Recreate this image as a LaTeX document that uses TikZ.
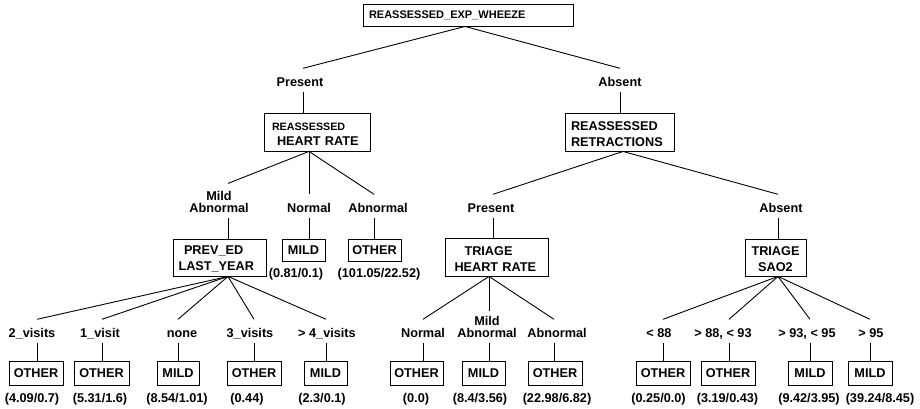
\documentclass[tikz,border=0pt]{standalone}
\usepackage{fontspec}
\setmainfont{Liberation Sans}
\begin{document}
\begin{tikzpicture}[x=1pt,y=-1pt,
  every node/.style={font=\bfseries},
  ln/.style={line width=0.9pt},
  box/.style={draw, line width=0.9pt, inner ysep=0pt, font=\fontsize{12.7}{16}\selectfont\bfseries},
  leaf/.style={box, minimum height=24pt, text height=9.1pt, text depth=0pt, inner xsep=0pt},
  lab/.style={inner xsep=0pt, inner ysep=5pt, text height=13pt, text depth=0pt, anchor=base, font=\fontsize{12.7}{11.5}\selectfont\bfseries},
  labtwo/.style={inner xsep=0pt, inner ysep=5pt, text depth=0pt, anchor=south, align=center, font=\fontsize{12.7}{11.5}\selectfont\bfseries},
  val/.style={inner sep=0pt, anchor=base, font=\fontsize{12.7}{15}\selectfont\bfseries}]
\useasboundingbox (0,0) rectangle (920,409);

% ---- decision boxes
\node[box, font=\fontsize{11}{13}\selectfont\bfseries, minimum width=210pt, minimum height=22pt, inner xsep=6pt, text width=198pt, align=left, text height=8pt, text depth=0pt] (root) at (468,15) {REASSESSED\_EXP\_WHEEZE};
\node[box, minimum width=106pt, minimum height=38pt, inner xsep=8pt, text width=90pt, align=left] (hr) at (317,132) {\rule{0pt}{12pt}{\fontsize{10.7}{16}\selectfont REASSESSED}\\\hspace*{5pt}HEART RATE};
\node[box, minimum width=109pt, minimum height=38pt, inner xsep=6pt, text width=97pt, align=left] (ret) at (619.5,132) {\rule{0pt}{12.5pt}REASSESSED\\RETRACTIONS};
\node[box, minimum width=93pt, minimum height=37pt, inner xsep=5.5pt, text width=82pt, align=left] (prev) at (219.5,257.5) {\rule{0pt}{12.5pt}\hspace*{5.5pt}PREV\_ED\\LAST\_YEAR};
\node[box, minimum width=103pt, minimum height=38pt, inner xsep=9.5pt, text width=84pt, align=left] (thr) at (496.5,257) {\rule{0pt}{12.5pt}\hspace*{10pt}TRIAGE\\HEART RATE};
\node[box, minimum width=61pt, minimum height=37pt, inner xsep=0pt, align=center] (sao) at (775.5,257.5) {\rule{0pt}{12.5pt}TRIAGE\\SAO2};

% ---- branch labels
\node[lab] (pres) at (300,86.5) {Present};
\node[lab] (abs) at (620,86.5) {Absent};
\node[labtwo] (ma1) at (219,217.5) {Mild\\Abnormal};
\node[lab] (n1) at (309,212.5) {Normal};
\node[lab] (ab1) at (378,212.5) {Abnormal};
\node[lab] (pr2) at (491,212.5) {Present};
\node[lab] (ab2) at (781,212.5) {Absent};
\node[lab] (l1) at (32,337.5) {2\_visits};
\node[lab] (l2) at (100,337.5) {1\_visit};
\node[lab] (l3) at (182,337.5) {none};
\node[lab] (l4) at (250,337.5) {3\_visits};
\node[lab] (l5) at (327,337.5) {> 4\_visits};
\node[lab] (n3) at (423,337.5) {Normal};
\node[labtwo] (ma3) at (487,342.5) {Mild\\Abnormal};
\node[lab] (ab3) at (557,337.5) {Abnormal};
\node[lab] (s1) at (659,337.5) {< 88};
\node[lab] (s2) at (723,337.5) {> 88, < 93};
\node[lab] (s3) at (807,337.5) {> 93, < 95};
\node[lab] (s4) at (871,337.5) {> 95};

% ---- leaves
\node[leaf, minimum height=22pt, minimum width=43pt] (mild1) at (303.5,250) {MILD};
\node[leaf, minimum height=22pt, minimum width=53pt] (oth1) at (374.5,250) {OTHER};
\node[leaf, minimum width=54pt] (o9) at (36,373) {OTHER};
\node[leaf, minimum width=55pt] (o10) at (101.5,373) {OTHER};
\node[leaf, minimum width=42pt] (m11) at (178,373) {MILD};
\node[leaf, minimum width=54pt] (o12) at (254,373) {OTHER};
\node[leaf, minimum width=43pt] (m13) at (325.5,373) {MILD};
\node[leaf, minimum width=53pt] (o14) at (416.5,373) {OTHER};
\node[leaf, minimum width=43pt] (m15) at (483.5,373) {MILD};
\node[leaf, minimum width=54pt] (o16) at (555,373) {OTHER};
\node[leaf, minimum width=54pt] (o17) at (663,373) {OTHER};
\node[leaf, minimum width=54pt] (o18) at (728,373) {OTHER};
\node[leaf, minimum width=44pt] (m19) at (810,373) {MILD};
\node[leaf, minimum width=44pt] (m20) at (870,373) {MILD};

% ---- values
\node[val] (v1) at (296,277.5) {(0.81/0.1)};
\node[val] (v2) at (379,277.5) {(101.05/22.52)};
\node[val] (v3) at (32,402.5) {(4.09/0.7)};
\node[val] (v4) at (100,402.5) {(5.31/1.6)};
\node[val] (v5) at (177,402.5) {(8.54/1.01)};
\node[val] (v6) at (247,402.5) {(0.44)};
\node[val] (v7) at (322,402.5) {(2.3/0.1)};
\node[val] (v8) at (416,402.5) {(0.0)};
\node[val] (v9) at (480,402.5) {(8.4/3.56)};
\node[val] (v10) at (557,402.5) {(22.98/6.82)};
\node[val] (v11) at (658.5,402.5) {(0.25/0.0)};
\node[val] (v12) at (727.5,402.5) {(3.19/0.43)};
\node[val] (v13) at (809,402.5) {(9.42/3.95)};
\node[val] (v14) at (880,402.5) {(39.24/8.45)};

% ---- connectors
\draw[ln] ([xshift=-3pt]root.south) -- ([xshift=3pt]pres.north);
\draw[ln] ([xshift=-3pt]root.south) -- (abs.north);
\draw[ln] ([xshift=3pt]pres.south) -- ([xshift=-14pt]hr.north);
\draw[ln] (abs.south) -- (abs.south |- ret.north);

\draw[ln] ([xshift=-8pt]hr.south) -- ([xshift=9pt,yshift=3pt]ma1.north);
\draw[ln] ([xshift=-8pt]hr.south) -- (n1.north);
\draw[ln] ([xshift=-8pt]hr.south) -- ([xshift=-4pt]ab1.north);
\draw[ln] ([xshift=9pt]ma1.south) -- ([xshift=8.5pt]prev.north);
\draw[ln] (n1.south) -- (n1.south |- mild1.north);
\draw[ln] ([xshift=-4pt]ab1.south) -- ([xshift=-0.5pt]oth1.north);

\draw[ln] ([xshift=3.5pt]ret.south) -- ([xshift=2pt]pr2.north);
\draw[ln] ([xshift=3.5pt]ret.south) -- ([xshift=-3pt]ab2.north);
\draw[ln] ([xshift=2pt]pr2.south) -- ([xshift=-3.5pt]thr.north);
\draw[ln] ([xshift=-3pt]ab2.south) -- ([xshift=2.5pt]sao.north);

\draw[ln] ([xshift=8.5pt]prev.south) -- ([xshift=5pt]l1.north);
\draw[ln] ([xshift=8.5pt]prev.south) -- ([xshift=2pt]l2.north);
\draw[ln] ([xshift=8.5pt]prev.south) -- ([xshift=-4pt]l3.north);
\draw[ln] ([xshift=8.5pt]prev.south) -- ([xshift=4pt]l4.north);
\draw[ln] ([xshift=8.5pt]prev.south) -- ([xshift=-1pt]l5.north);
\draw[ln] ([xshift=5pt]l1.south) -- ([xshift=1pt]o9.north);
\draw[ln] ([xshift=2pt]l2.south) -- ([xshift=0.5pt]o10.north);
\draw[ln] ([xshift=-4pt]l3.south) -- (m11.north);
\draw[ln] ([xshift=4pt]l4.south) -- (o12.north);
\draw[ln] ([xshift=-1pt]l5.south) -- ([xshift=0.5pt]m13.north);

\draw[ln] ([xshift=-7.5pt]thr.south) -- (n3.north);
\draw[ln] ([xshift=-7.5pt]thr.south) -- ([xshift=2pt]ma3.north);
\draw[ln] ([xshift=-7.5pt]thr.south) -- ([xshift=-3pt]ab3.north);
\draw[ln] (n3.south) -- ([xshift=6.5pt]o14.north);
\draw[ln] ([xshift=2pt]ma3.south) -- ([xshift=5.5pt]m15.north);
\draw[ln] ([xshift=-3pt]ab3.south) -- ([xshift=-1pt]o16.north);

\draw[ln] ([xshift=2.5pt]sao.south) -- ([xshift=4pt]s1.north);
\draw[ln] ([xshift=2.5pt]sao.south) -- ([xshift=6pt]s2.north);
\draw[ln] ([xshift=2.5pt]sao.south) -- ([xshift=3pt]s3.north);
\draw[ln] ([xshift=2.5pt]sao.south) -- ([xshift=-1pt]s4.north);
\draw[ln] ([xshift=4pt]s1.south) -- (o17.north);
\draw[ln] ([xshift=6pt]s2.south) -- ([xshift=1pt]o18.north);
\draw[ln] ([xshift=3pt]s3.south) -- (m19.north);
\draw[ln] ([xshift=-1pt]s4.south) -- (m20.north);
\end{tikzpicture}
\end{document}
